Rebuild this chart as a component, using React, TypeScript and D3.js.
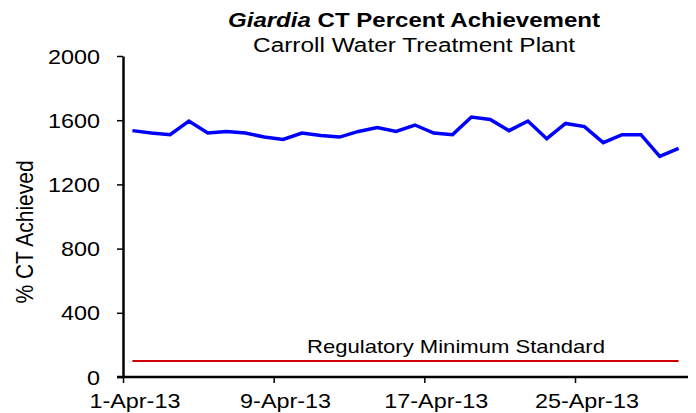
import React, { useEffect, useRef } from 'react';
import * as d3 from 'd3';

// days of April 2013
const days = [1, 2, 3, 4, 5, 6, 7, 8, 9, 10, 11, 12, 13, 14, 15, 16, 17, 18, 19, 20, 21, 22, 23, 24, 25, 26, 27, 28, 29, 30];
const ctAchieved = [1535, 1520, 1510, 1595, 1520, 1530, 1520, 1495, 1480, 1520, 1505, 1495, 1530, 1555, 1530, 1570, 1520, 1510, 1620, 1605, 1535, 1595, 1485, 1580, 1560, 1460, 1510, 1510, 1375, 1425];
const regulatoryMinimum = 100;
const yTicks = [0, 400, 800, 1200, 1600, 2000];
const xTickDays = [1, 9, 17, 25];
const xTickLabels = ['1-Apr-13', '9-Apr-13', '17-Apr-13', '25-Apr-13'];

const W = 696;
const H = 413;
const SX = 1.17; // horizontal stretch of the text

function App() {
  const svgRef = useRef<SVGSVGElement>(null);

  useEffect(() => {
    const svg = d3.select(svgRef.current);
    svg.selectAll('*').remove();

    const left = 123;
    const right = 688;
    const top = 56;
    const bottom = 377;

    const x = d3.scaleUtc()
      .domain([new Date(Date.UTC(2013, 3, 1)), new Date(Date.UTC(2013, 4, 1))])
      .range([left, right]);
    const y = d3.scaleLinear().domain([0, 2000]).range([bottom, top]);
    const dayW = (right - left) / 30;
    const dayCenter = (d: number) => x(new Date(Date.UTC(2013, 3, d, 12)));

    const font = 'Arial, "Liberation Sans", sans-serif';

    // titles
    svg.append('text')
      .attr('x', 414).attr('y', 27)
      .attr('text-anchor', 'middle')
      .attr('font-family', font).attr('font-size', 20).attr('font-weight', 'bold')
      .attr('textLength', 372).attr('lengthAdjust', 'spacingAndGlyphs')
      .call((t) => {
        t.append('tspan').attr('font-style', 'italic').text('Giardia');
        t.append('tspan').text(' CT Percent Achievement');
      });
    svg.append('text')
      .attr('x', 414).attr('y', 52)
      .attr('text-anchor', 'middle')
      .attr('font-family', font).attr('font-size', 20)
      .attr('textLength', 322).attr('lengthAdjust', 'spacingAndGlyphs')
      .text('Carroll Water Treatment Plant');

    // y axis title
    svg.append('text')
      .attr('transform', `translate(33,232) scale(${SX},1) rotate(-90)`)
      .attr('text-anchor', 'middle')
      .attr('font-family', font).attr('font-size', 21)
      .text('% CT Achieved');

    // regulatory line
    svg.append('line')
      .attr('x1', dayCenter(days[0])).attr('x2', dayCenter(days[days.length - 1]))
      .attr('y1', y(regulatoryMinimum)).attr('y2', y(regulatoryMinimum))
      .attr('stroke', '#cc0000').attr('stroke-width', 2);
    svg.append('text')
      .attr('x', 456).attr('y', 353)
      .attr('text-anchor', 'middle')
      .attr('font-family', font).attr('font-size', 19)
      .attr('textLength', 298).attr('lengthAdjust', 'spacingAndGlyphs')
      .text('Regulatory Minimum Standard');

    // data line
    const line = d3.line<number>()
      .x((d, i) => dayCenter(days[i]))
      .y((d) => y(d));
    svg.append('path')
      .datum(ctAchieved)
      .attr('d', line)
      .attr('fill', 'none')
      .attr('stroke', '#0000ff')
      .attr('stroke-width', 3.5)
      .attr('stroke-linejoin', 'miter');

    // y axis
    const yAxis = svg.append('g')
      .attr('transform', `translate(${left},0)`)
      .call(d3.axisLeft(y).tickValues(yTicks).tickSize(6).tickSizeOuter(0).tickPadding(0).tickFormat(d3.format('d')));
    yAxis.select('.domain').attr('stroke', '#000').attr('stroke-width', 2.5);
    yAxis.selectAll('.tick line').attr('stroke', '#000').attr('stroke-width', 1.5);
    yAxis.selectAll('.tick text')
      .attr('x', null)
      .attr('dy', null)
      .attr('y', 7)
      .attr('transform', `translate(-23,0) scale(${SX},1)`)
      .attr('font-family', font).attr('font-size', 20).attr('fill', '#000');

    // x axis
    const xAxis = svg.append('g')
      .attr('transform', `translate(0,${bottom})`)
      .call(d3.axisBottom(x)
        .tickValues(xTickDays.map((d) => new Date(Date.UTC(2013, 3, d))))
        .tickSize(6).tickSizeOuter(0)
        .tickFormat((d, i) => xTickLabels[i]));
    xAxis.select('.domain').attr('stroke', '#000').attr('stroke-width', 2.5)
      .attr('d', `M${left - 6},0H${right}`);
    xAxis.selectAll('.tick line').attr('stroke', '#000').attr('stroke-width', 1.5);
    xAxis.selectAll('.tick text')
      .attr('y', null).attr('dy', null)
      .attr('transform', `translate(${dayW / 2 + 2},31) scale(${SX},1)`)
      .attr('font-family', font).attr('font-size', 20).attr('fill', '#000');
  }, []);

  return (
    <svg ref={svgRef} width={W} height={H} style={{ position: 'absolute', left: 0, top: 0, background: '#fff' }}></svg>
  );
}

export default App;
